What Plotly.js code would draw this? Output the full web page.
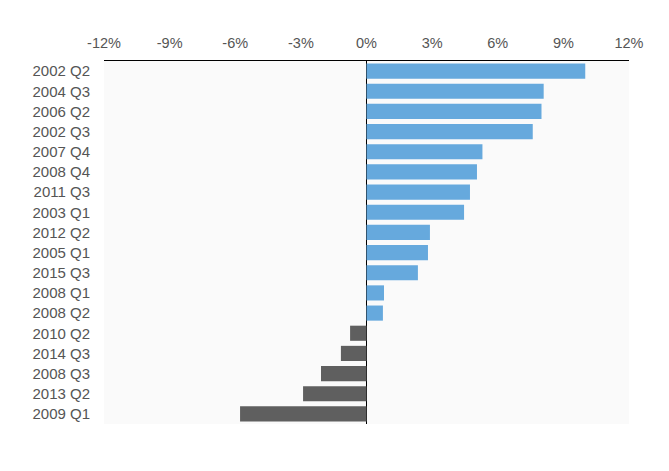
<!DOCTYPE html>
<html>
<head>
<meta charset="utf-8">
<script src="https://cdn.plot.ly/plotly-3.0.1.min.js"></script>
<style>html,body{margin:0;padding:0;background:#fff;}#chart{width:669px;height:471px;}</style>
</head>
<body>
<div id="chart"></div>
<script>
var quarters = ["2002 Q2","2004 Q3","2006 Q2","2002 Q3","2007 Q4","2008 Q4","2011 Q3","2003 Q1","2012 Q2","2005 Q1","2015 Q3","2008 Q1","2008 Q2","2010 Q2","2014 Q3","2008 Q3","2013 Q2","2009 Q1"];
var growth = [10.0, 8.1, 8.0, 7.6, 5.3, 5.05, 4.73, 4.46, 2.9, 2.81, 2.35, 0.8, 0.75, -0.75, -1.17, -2.08, -2.9, -5.78];
var tickVals = [-12,-9,-6,-3,0,3,6,9,12];
var tickText = ["-12%","-9%","-6%","-3%","0%","3%","6%","9%","12%"];

var colors = growth.map(function(v){ return v >= 0 ? "#66a9dd" : "#5f5f5f"; });

var trace = {
  type: "bar",
  orientation: "h",
  x: growth,
  y: quarters,
  marker: {color: colors, line: {width: 0}},
  hoverinfo: "x+y"
};

var layout = {
  width: 669,
  height: 471,
  margin: {l: 104, r: 40, t: 61, b: 47},
  paper_bgcolor: "#ffffff",
  plot_bgcolor: "#fafafa",
  bargap: 0.25,
  showlegend: false,
  font: {family: "Liberation Sans, Arial, sans-serif", size: 14, color: "#555555"},
  xaxis: {
    side: "top",
    range: [-12, 12],
    tickvals: tickVals,
    ticktext: tickText,
    showgrid: false,
    zeroline: true,
    zerolinecolor: "#000000",
    zerolinewidth: 1,
    showline: true,
    linecolor: "#000000",
    linewidth: 1,
    ticks: "outside",
    ticklen: 6,
    tickcolor: "rgba(0,0,0,0)",
    tickfont: {size: 14.5, color: "#555555"},
    fixedrange: true
  },
  yaxis: {
    autorange: "reversed",
    showgrid: false,
    zeroline: false,
    showline: false,
    ticks: "outside",
    ticklen: 10,
    tickcolor: "rgba(0,0,0,0)",
    tickfont: {size: 15, color: "#555555"},
    fixedrange: true
  }
};

Plotly.newPlot("chart", [trace], layout, {displayModeBar: false, staticPlot: true});
</script>
</body>
</html>
